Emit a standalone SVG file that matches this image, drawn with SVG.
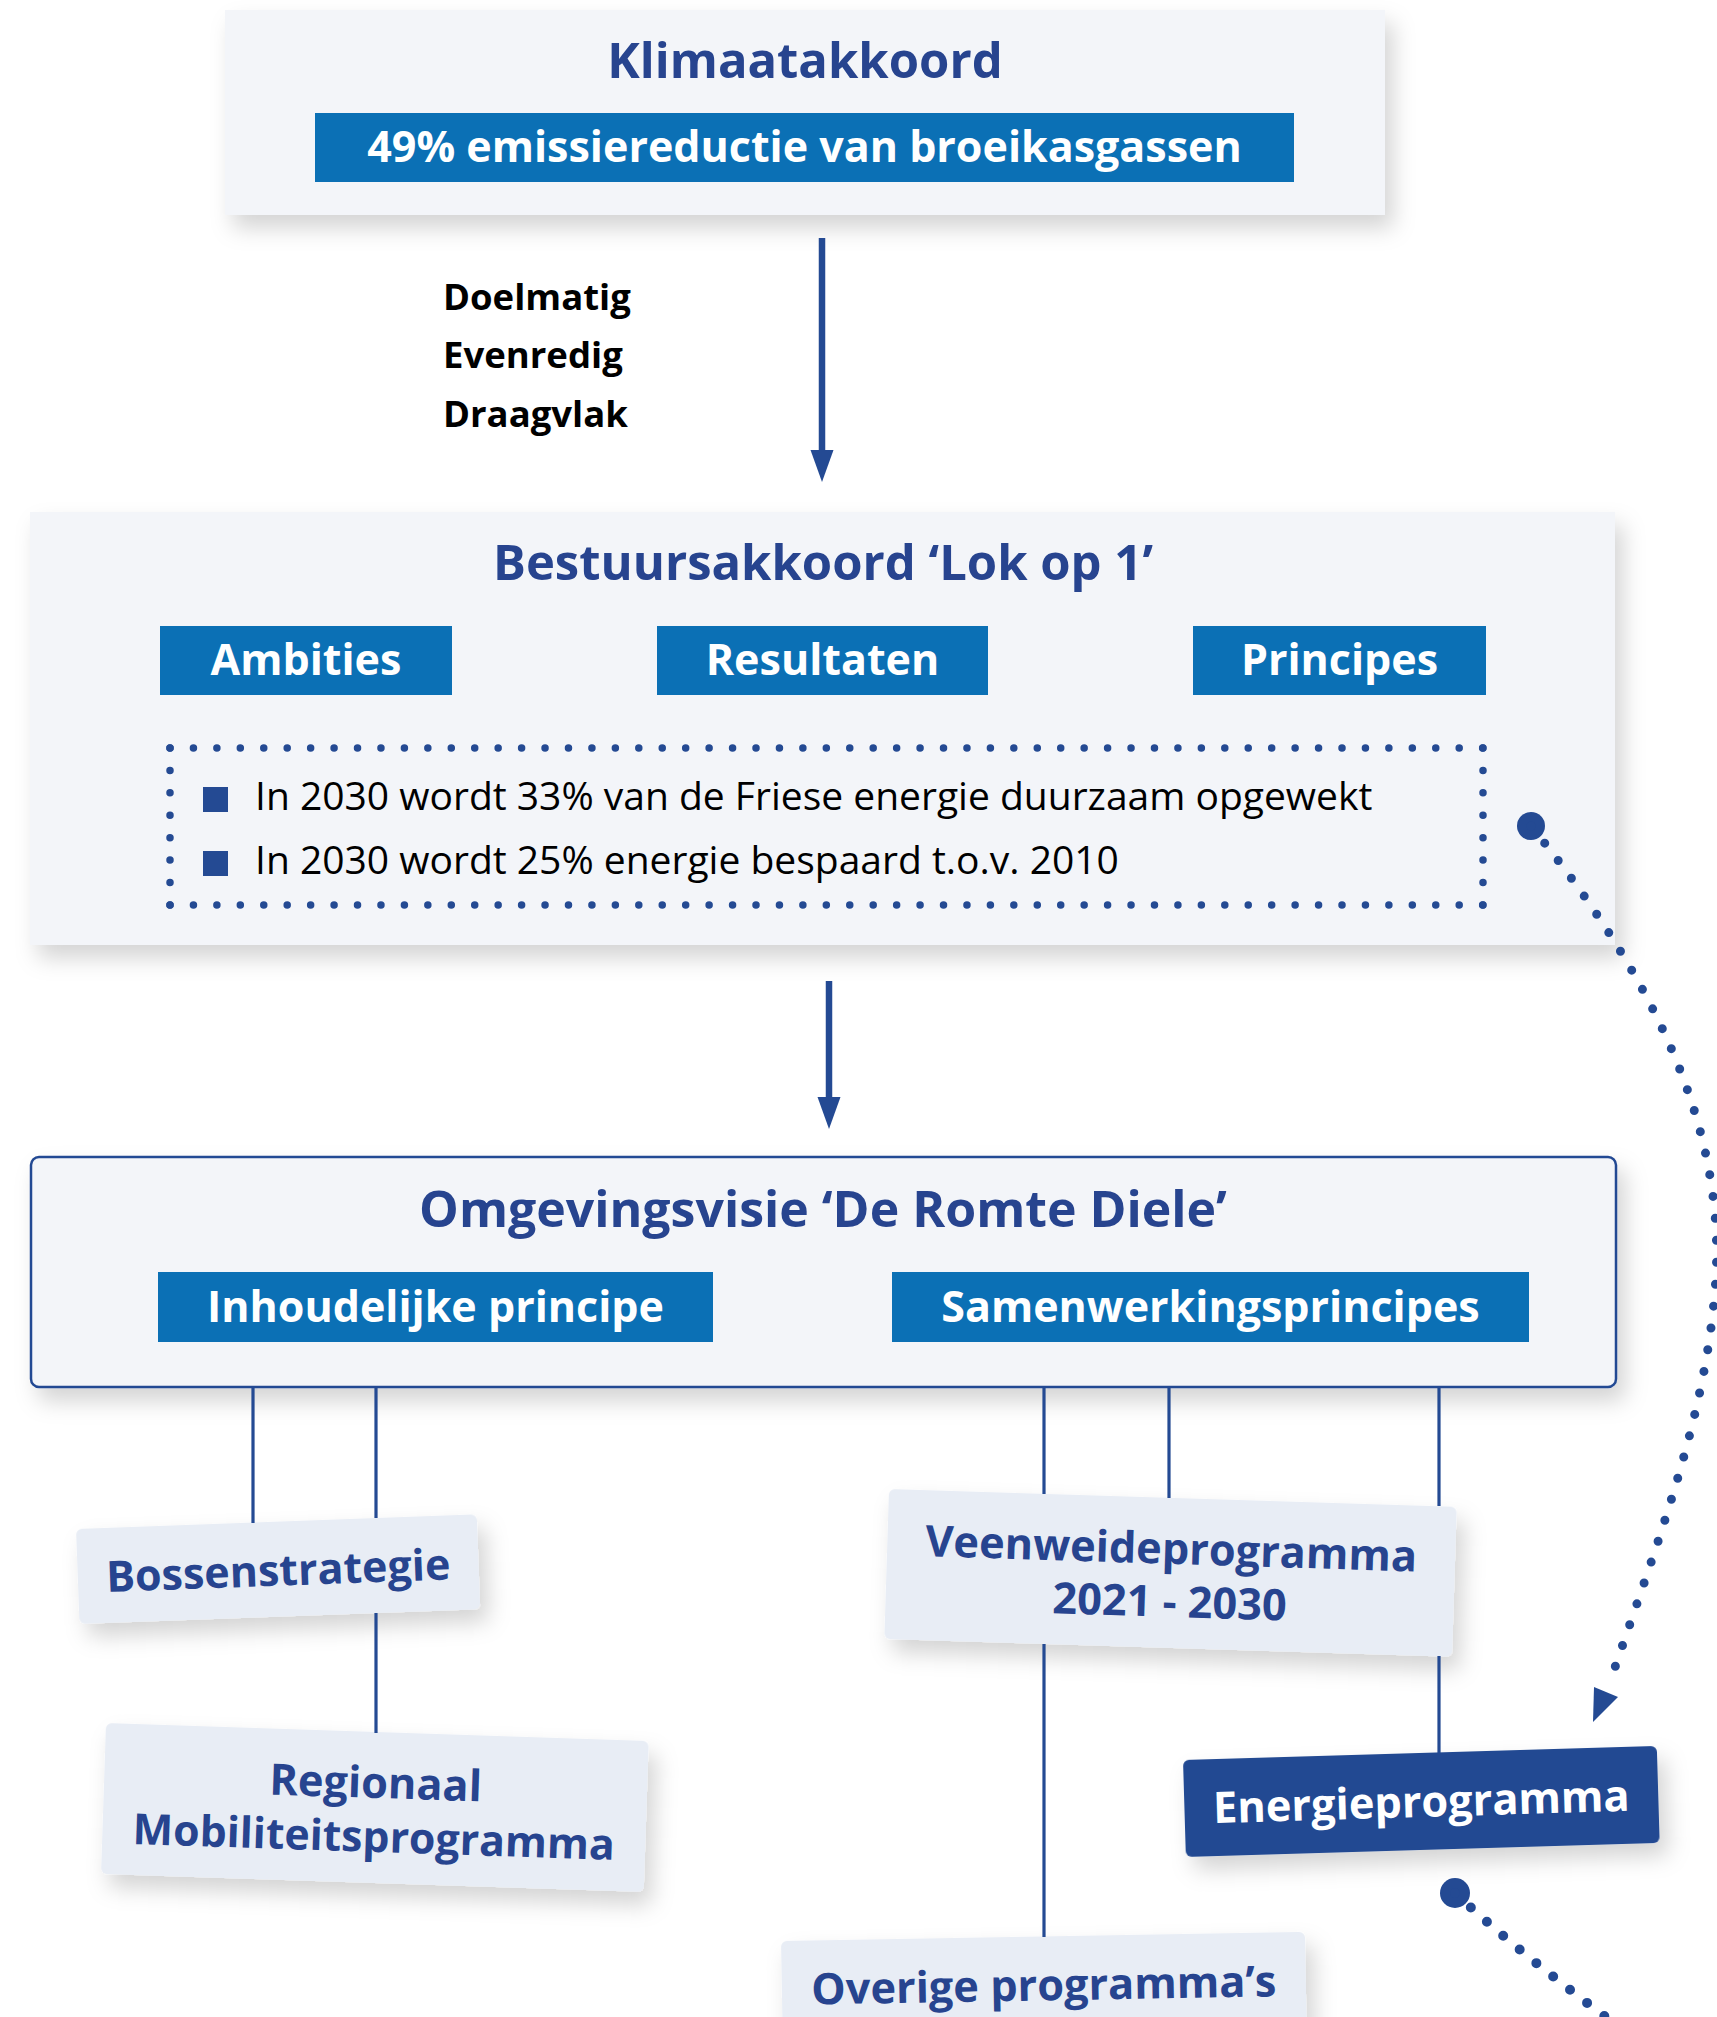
<svg xmlns="http://www.w3.org/2000/svg" width="1717" height="2017" viewBox="0 0 1717 2017">
<defs>
<style>
.box{fill:#f3f5f9}
.pbox{fill:#e8edf5}
.bar{fill:#0b70b5}
.title{font-family:"Open Sans","Noto Sans",sans-serif;font-weight:700;font-size:49px;fill:#27448f;text-anchor:middle}
.bart{font-family:"Open Sans","Noto Sans",sans-serif;font-weight:700;font-size:43px;fill:#ffffff;text-anchor:middle}
.plab{font-family:"Open Sans","Noto Sans",sans-serif;font-weight:700;font-size:43.3px;fill:#27448f;text-anchor:middle}
.crit{font-family:"Open Sans","Noto Sans",sans-serif;font-weight:700;font-size:36.5px;fill:#000000}
.bul{font-family:"Open Sans","Noto Sans",sans-serif;font-weight:400;font-size:39px;fill:#000000}
.ln{stroke:#244a93;stroke-width:3.2;fill:none}
.arr{stroke:#244a93;stroke-width:6.5;fill:none}
.dots{stroke:#244a93;stroke-linecap:round;fill:none}
.dk{fill:#244a93}
</style>
<filter id="sh" x="-10%" y="-20%" width="130%" height="160%">
<feDropShadow dx="8" dy="13" stdDeviation="11" flood-color="#000000" flood-opacity="0.17"/>
</filter>
<marker id="ah" markerUnits="userSpaceOnUse" markerWidth="34" markerHeight="24" refX="0" refY="11.5" orient="auto" overflow="visible">
<path d="M0,0 L32,11.5 L0,23 z" fill="#244a93"/>
</marker>
</defs>
<rect width="1717" height="2017" fill="#ffffff"/>

<g id="klimaatakkoord">
<rect class="box" x="225" y="10" width="1160" height="205" filter="url(#sh)"/>
<text class="title" x="805" y="78">Klimaatakkoord</text>
<rect class="bar" x="315" y="113" width="979" height="69"/>
<text class="bart" x="804.5" y="162">49% emissiereductie van broeikasgassen</text>
</g>

<g id="criteria">
<text class="crit" x="443" y="310">Doelmatig</text>
<text class="crit" x="443" y="368">Evenredig</text>
<text class="crit" x="443" y="427">Draagvlak</text>
</g>

<g id="bestuursakkoord">
<rect class="box" x="30" y="512" width="1585" height="433" filter="url(#sh)"/>
<text class="title" x="823" y="580">Bestuursakkoord ‘Lok op 1’</text>
<rect class="bar" x="160" y="626" width="292" height="69"/>
<text class="bart" x="306" y="675">Ambities</text>
<rect class="bar" x="657" y="626" width="331" height="69"/>
<text class="bart" x="822.5" y="675">Resultaten</text>
<rect class="bar" x="1193" y="626" width="293" height="69"/>
<text class="bart" x="1339.5" y="675">Principes</text>
<g class="dots" stroke-width="7.5">
<path d="M170,748 H1483.5" stroke-dasharray="0 23.44"/>
<path d="M170,905 H1483.5" stroke-dasharray="0 23.44"/>
<path d="M170,748 V905.5" stroke-dasharray="0 22.42"/>
<path d="M1483,748 V905.5" stroke-dasharray="0 22.42"/>
</g>
<rect class="dk" x="203" y="787" width="25" height="25"/>
<text class="bul" x="255" y="810">In 2030 wordt 33% van de Friese energie duurzaam opgewekt</text>
<rect class="dk" x="203" y="851" width="25" height="25"/>
<text class="bul" x="255" y="874">In 2030 wordt 25% energie bespaard t.o.v. 2010</text>
</g>

<g id="omgevingsvisie">
<rect class="box" x="31" y="1157" width="1585" height="230" rx="8" stroke="#244a93" stroke-width="2.5" filter="url(#sh)"/>
<text class="title" x="823" y="1227" style="font-size:50px">Omgevingsvisie ‘De Romte Diele’</text>
<rect class="bar" x="158" y="1272" width="555" height="70"/>
<text class="bart" x="435.5" y="1322">Inhoudelijke principe</text>
<rect class="bar" x="892" y="1272" width="637" height="70"/>
<text class="bart" x="1210.5" y="1322">Samenwerkingsprincipes</text>
</g>

<g id="bossenstrategie" transform="translate(76,1529) rotate(-2.1)">
<rect class="pbox" width="401" height="95" rx="6" filter="url(#sh)"/>
<text class="plab" x="200.5" y="64" style="font-size:43px">Bossenstrategie</text>
</g>

<g id="regionaal-mobiliteitsprogramma" transform="translate(106,1723) rotate(1.9)">
<rect class="pbox" width="543" height="151" rx="6" filter="url(#sh)"/>
<text class="plab" x="271.5" y="66">Regionaal</text>
<text class="plab" x="271.5" y="120" style="font-size:42.8px">Mobiliteitsprogramma</text>
</g>

<g id="veenweideprogramma" transform="translate(889,1489) rotate(1.8)">
<rect class="pbox" width="568" height="150" rx="6" filter="url(#sh)"/>
<text class="plab" x="284" y="66">Veenweideprogramma</text>
<text class="plab" x="284" y="119">2021 - 2030</text>
</g>

<g id="energieprogramma" transform="translate(1183,1760) rotate(-1.7)">
<rect width="474" height="97" rx="6" fill="#244a92" filter="url(#sh)"/>
<text class="plab" x="237" y="64" style="fill:#ffffff">Energieprogramma</text>
</g>

<g id="overige-programmas" transform="translate(781,1941) rotate(-1)">
<rect class="pbox" width="524" height="150" rx="6" filter="url(#sh)"/>
<text class="plab" x="262" y="64">Overige programma’s</text>
</g>

<g id="connectors">
<line class="arr" x1="822" y1="238" x2="822" y2="450" marker-end="url(#ah)"/>
<line class="arr" x1="829" y1="981" x2="829" y2="1097" marker-end="url(#ah)"/>
<line class="ln" x1="253" y1="1388" x2="253" y2="1523"/>
<line class="ln" x1="376" y1="1388" x2="376" y2="1518"/>
<line class="ln" x1="376" y1="1613" x2="376" y2="1733"/>
<line class="ln" x1="1044" y1="1388" x2="1044" y2="1494"/>
<line class="ln" x1="1044" y1="1644" x2="1044" y2="1937"/>
<line class="ln" x1="1169" y1="1388" x2="1169" y2="1498"/>
<line class="ln" x1="1439" y1="1388" x2="1439" y2="1506"/>
<line class="ln" x1="1439" y1="1656" x2="1439" y2="1753"/>
<circle class="dk" cx="1531" cy="826" r="14"/>
<path class="dots" stroke-width="9" stroke-dasharray="0 22" d="M1531,826 C1640,960 1730,1120 1715,1290 C1705,1420 1655,1550 1612,1676"/>
<polygon class="dk" points="1594,1687 1618,1697 1593,1722"/>
<circle class="dk" cx="1455" cy="1893" r="15"/>
<path class="dots" stroke-width="10" stroke-dasharray="0 21.5" d="M1455,1893 Q1525,1958 1630,2035"/>
</g>
</svg>
